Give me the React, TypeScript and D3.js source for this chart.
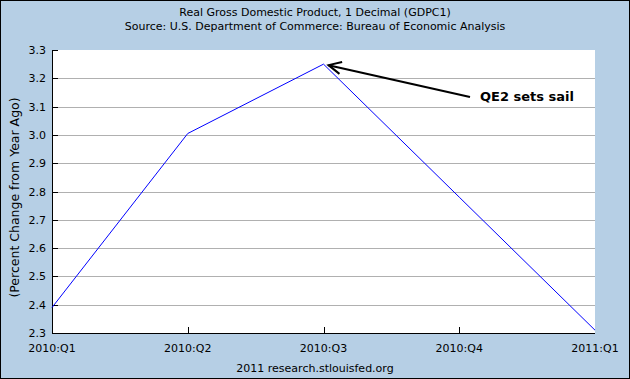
import React from "react";
import * as d3 from "d3";

const categories = ["2010:Q1", "2010:Q2", "2010:Q3", "2010:Q4", "2011:Q1"];
const values = [2.39, 3.005, 3.25, 2.78, 2.31];
const yTicks = [2.3, 2.4, 2.5, 2.6, 2.7, 2.8, 2.9, 3.0, 3.1, 3.2, 3.3];
const title1 = "Real Gross Domestic Product, 1 Decimal (GDPC1)";
const title2 = "Source: U.S. Department of Commerce: Bureau of Economic Analysis";
const yLabel = "(Percent Change from Year Ago)";
const footer = "2011 research.stlouisfed.org";
const annotation = "QE2 sets sail";
const annotatedIndex = 2;

export default function App() {
  const W = 630, H = 379;
  const left = 52, right = 595, top = 50, bottom = 333;
  const x = d3.scalePoint<string>().domain(categories).range([left, right]);
  const y = d3.scaleLinear().domain([2.3, 3.3]).range([bottom, top]);
  const line = d3.line<number>().x((_, i) => x(categories[i])!).y((d) => y(d));
  const font = "DejaVu Sans, Verdana, sans-serif";
  const px = x(categories[annotatedIndex])!;
  const py = y(values[annotatedIndex]);
  const ax0 = 470, ay0 = 97;
  const tipX = px + 5, tipY = py + 1;
  const ang = Math.atan2(ay0 - tipY, ax0 - tipX);
  const hl = 14, ha = 0.45;
  return (
    <svg width={W} height={H} style={{ position: "absolute", left: 0, top: 0 }}>
      <rect x={0.5} y={0.5} width={W - 1} height={H - 1} fill="#B6CFE5" stroke="#000" />
      <text x={315} y={16} textAnchor="middle" fontFamily={font} fontSize={11}>{title1}</text>
      <text x={315} y={30} textAnchor="middle" fontFamily={font} fontSize={11}>{title2}</text>
      <rect x={left} y={top} width={right - left} height={bottom - top} fill="#fff" />
      {yTicks.map((t) => (
        <g key={t}>
          {t > 2.3 && t < 3.3 && (
            <line x1={left} x2={right} y1={Math.round(y(t)) + 0.5} y2={Math.round(y(t)) + 0.5} stroke="#B0B0B0" />
          )}
          <line x1={left} x2={left + 6} y1={Math.round(y(t)) + 0.5} y2={Math.round(y(t)) + 0.5} stroke="#000" />
          <text x={46} y={y(t) + 4} textAnchor="end" fontFamily={font} fontSize={11}>{t.toFixed(1)}</text>
        </g>
      ))}
      {categories.map((c, i) => (
        <g key={c}>
          {i > 0 && i < categories.length - 1 && (
            <line x1={Math.round(x(c)!) + 0.5} x2={Math.round(x(c)!) + 0.5} y1={bottom} y2={bottom - 6} stroke="#000" />
          )}
          <text x={x(c)!} y={352} textAnchor="middle" fontFamily={font} fontSize={11}>{c}</text>
        </g>
      ))}
      <line x1={left + 0.5} x2={left + 0.5} y1={top} y2={bottom} stroke="#000" />
      <line x1={left} x2={right} y1={bottom + 0.5} y2={bottom + 0.5} stroke="#000" />
      <path d={line(values)!} fill="none" stroke="#0000FF" strokeWidth={1} />
      <line x1={ax0} y1={ay0} x2={tipX} y2={tipY} stroke="#000" strokeWidth={2} />
      <path
        d={`M${tipX + hl * Math.cos(ang - ha)},${tipY + hl * Math.sin(ang - ha)} L${tipX},${tipY} L${tipX + hl * Math.cos(ang + ha)},${tipY + hl * Math.sin(ang + ha)}`}
        fill="none" stroke="#000" strokeWidth={2}
      />
      <text x={480} y={101} fontFamily={font} fontSize={13} fontWeight="bold">{annotation}</text>
      <text transform={`translate(19,${(top + bottom) / 2 + 6}) rotate(-90)`} textAnchor="middle" fontFamily={font} fontSize={12.5}>{yLabel}</text>
      <text x={315} y={372} textAnchor="middle" fontFamily={font} fontSize={11}>{footer}</text>
    </svg>
  );
}
